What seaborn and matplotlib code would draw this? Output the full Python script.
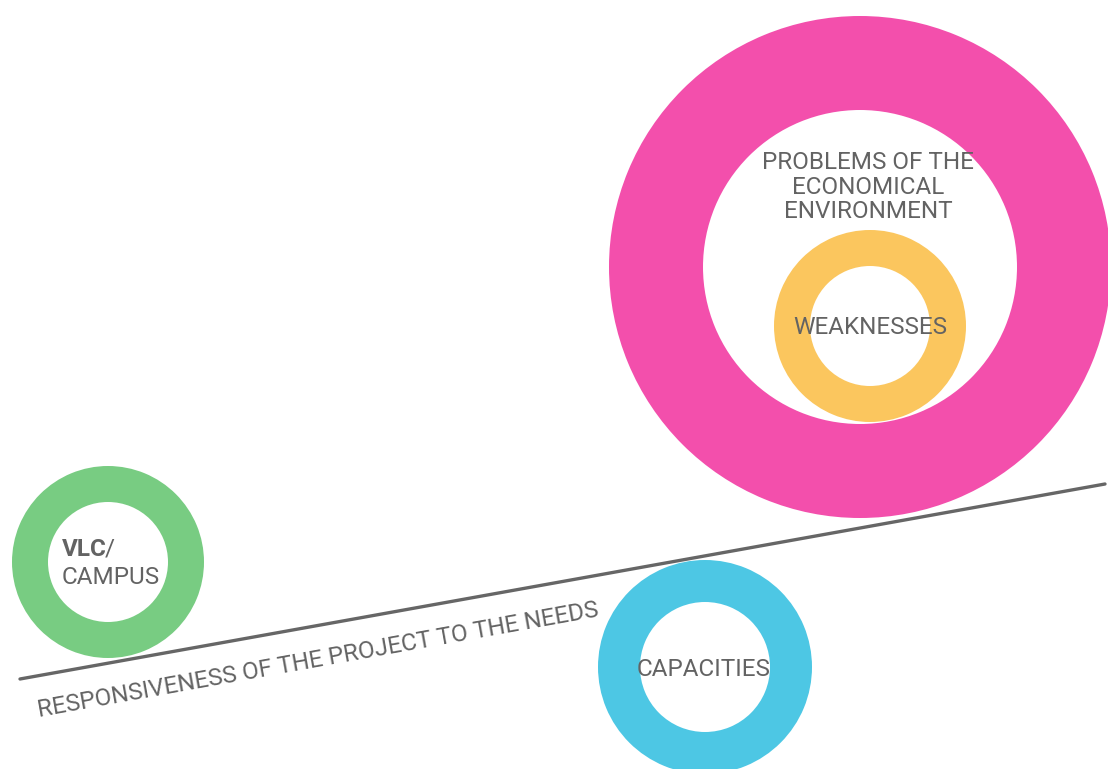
import numpy as np
import pandas as pd
import seaborn as sns
import matplotlib.pyplot as plt
from matplotlib.patches import Wedge

sns.set_theme(style="white")
plt.rcParams['font.family'] = ['Roboto', 'DejaVu Sans']

# 링 데이터 (픽셀 좌표 기준)
ring_names = ['problems', 'weaknesses', 'vlc', 'capacities']
ring_x = [860, 870, 108, 705]
ring_y = [267, 326, 562, 667]
ring_outer = [251, 96, 96, 107]
ring_inner = [157, 60, 60, 65]
ring_colors = ['#F34FAC', '#FBC65E', '#78CC82', '#4DC7E4']

# 기울어진 축 선
axis_x = [20, 1105]
axis_y = [679, 484]

text_color = '#636363'
fw = 'normal'

fig = plt.figure(figsize=(11.08, 7.69), dpi=100)
ax = fig.add_axes([0, 0, 1, 1])

for x, y, ro, ri, c in zip(ring_x, ring_y, ring_outer, ring_inner, ring_colors):
    ax.add_patch(Wedge((x, y), ro, 0, 360, width=ro - ri, color=c, lw=0))

line_df = pd.DataFrame({'x': axis_x, 'y': axis_y})
sns.lineplot(data=line_df, x='x', y='y', color='#666666', lw=2.4, ax=ax)

# 라벨
ax.text(868, 187, 'PROBLEMS OF THE\nECONOMICAL\nENVIRONMENT', ha='center', va='center',
        fontsize=17.5, color=text_color, linespacing=1.1, fontweight=fw)
ax.text(870, 328, 'WEAKNESSES', ha='center', va='center', fontsize=17.5, color=text_color,
        fontweight=fw)
ax.text(704, 669, 'CAPACITIES', ha='center', va='center', fontsize=17.5, color=text_color,
        fontweight=fw)
ax.text(62, 549, 'VLC', ha='left', va='center', fontsize=17.5, color=text_color, fontweight='bold')
ax.text(105, 549, '/', ha='left', va='center', fontsize=17.5, color=text_color, fontweight=fw)
ax.text(62, 578, 'CAMPUS', ha='left', va='center', fontsize=17.5, color=text_color, fontweight=fw)

angle = np.degrees(np.arctan2(axis_y[0] - axis_y[1], axis_x[1] - axis_x[0]))
ax.text(318, 660, 'RESPONSIVENESS OF THE PROJECT TO THE NEEDS', ha='center', va='center',
        rotation=angle, rotation_mode='anchor', fontsize=17.5, color=text_color, fontweight=fw)

ax.set_xlim(0, 1108)
ax.set_ylim(769, 0)
ax.set_aspect('equal')
ax.axis('off')

plt.savefig('out.png', dpi=100)
